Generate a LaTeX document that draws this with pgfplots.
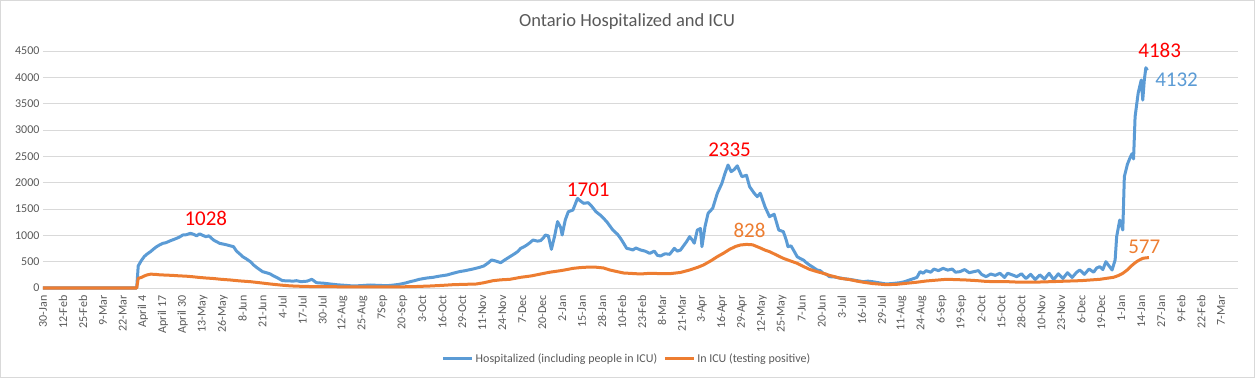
\documentclass[border=0pt]{standalone}
\usepackage{fontspec}
\setmainfont{Carlito}
\usepackage{pgfplots}
\pgfplotsset{compat=1.18}
\definecolor{hosp}{HTML}{5B9BD5}
\definecolor{icu}{HTML}{ED7D31}
\definecolor{gridc}{HTML}{D9D9D9}
\definecolor{txt}{HTML}{595959}
\begin{document}
\begin{tikzpicture}
\path[use as bounding box] (0,0) rectangle (1255bp,378bp);
\draw[gridc, line width=1bp] (0.5bp,0.5bp) rectangle (1254.5bp,377.5bp);
\begin{axis}[
  at={(43bp,90bp)}, anchor=south west,
  scale only axis, width=1195bp, height=237bp,
  xmin=0, xmax=778, ymin=0, ymax=4500,
  clip=false,
  ytick={0,500,...,4500},
  scaled y ticks=false,
  /pgf/number format/1000 sep={},
  /pgf/number format/assume math mode=true,
  xtick={0,13,...,767},
  xticklabels={30-Jan,12-Feb,25-Feb,9-Mar,22-Mar,April 4,April 17,April 30,13-May,26-May,8-Jun,21-Jun,4-Jul,17-Jul,30-Jul,12-Aug,25-Aug,7Sep,20-Sep,3-Oct,16-Oct,29-Oct,11-Nov,24-Nov,7-Dec,20-Dec,2-Jan,15-Jan,28-Jan,10-Feb,23-Feb,8-Mar,21-Mar,3-Apr,16-Apr,29-Apr,12-May,25-May,7-Jun,20-Jun,3-Jul,16-Jul,29-Jul,11-Aug,24-Aug,6-Sep,19-Sep,2-Oct,15-Oct,28-Oct,10-Nov,23-Nov,6-Dec,19-Dec,1-Jan,14-Jan,27-Jan,9-Feb,22-Feb,7-Mar},
  axis line style={draw=none},
  major tick length=0pt,
  ymajorgrids, grid style={gridc, line width=0.75bp},
  tick label style={font=\fontsize{12bp}{14bp}\selectfont, text=txt},
  yticklabel style={anchor=east, xshift=0bp},
  xticklabel style={rotate=90, anchor=east},
  xticklabel shift=4bp,
  title={Ontario Hospitalized and ICU},
  title style={at={(0.4887,1.097)}, anchor=center, yshift=0pt, font=\fontsize{18.5bp}{21bp}\selectfont, text=txt},
  legend columns=2,
  legend style={at={(0.4887,-0.297)}, anchor=center, draw=none, fill=none, font=\fontsize{12bp}{14bp}\selectfont, text=txt, /tikz/every even column/.append style={column sep=4bp}},
  legend image code/.code={\draw[#1, line width=3bp] (0bp,0bp) -- (29bp,0bp);},
]
\addplot[hosp, line width=3bp, line join=round] coordinates {
(0,0) (61,0) (62,420) (64,520) (66,600) (68,650) (70,690) (72,740) (74,785) (76,820) (78,848) (80,860) (83,898) (85,920) (87,943) (89,970) (91,1006) (93,1010) (96,1038) (98,1020) (100,990) (102,1028) (104,1000) (106,975) (108,990) (111,911) (113,880) (115,848) (118,830) (120,816) (122,800) (124,785) (126,700) (128,650) (130,595) (132,560) (135,500) (137,440) (139,392) (141,350) (143,310) (146,285) (148,266) (150,230) (152,203) (154,170) (156,139) (160,135) (163,130) (165,139) (168,120) (172,130) (175,165) (178,101) (183,90) (187,76) (192,60) (197,50) (202,38) (207,45) (213,57) (218,50) (224,44) (228,55) (232,70) (236,95) (239,120) (242,140) (245,165) (250,190) (254,203) (258,225) (263,247) (267,280) (271,310) (275,330) (280,361) (284,390) (287,418) (290,480) (292,532) (295,510) (298,481) (301,540) (304,595) (307,650) (309,690) (311,753) (313,780) (315,816) (317,860) (319,911) (322,890) (324,900) (326,960) (327,1006) (329,990) (331,734) (333,975) (335,1260) (337,1150) (338,1006) (340,1291) (342,1449) (345,1480) (348,1701) (350,1650) (352,1608) (355,1620) (357,1560) (360,1449) (363,1380) (367,1260) (369,1180) (371,1101) (374,1020) (376,943) (378,850) (380,753) (382,740) (384,722) (386,760) (389,722) (392,700) (395,658) (398,700) (400,620) (402,608) (405,650) (408,640) (411,753) (413,700) (415,720) (417,800) (419,880) (421,975) (423,900) (424,850) (426,1101) (428,1130) (429,785) (431,1165) (433,1418) (436,1513) (439,1798) (442,1988) (444,2178) (446,2335) (448,2209) (450,2250) (452,2320) (455,2114) (458,2140) (460,1925) (463,1800) (465,1735) (467,1800) (470,1545) (473,1355) (476,1400) (479,1101) (482,1070) (484,900) (485,785) (487,800) (489,700) (491,595) (493,560) (495,532) (497,480) (499,437) (502,380) (504,342) (506,329) (508,279) (510,260) (512,215) (515,210) (519,190) (522,175) (525,165) (530,140) (534,120) (537,130) (540,120) (545,95) (549,76) (553,85) (558,101) (561,120) (564,152) (567,180) (569,203) (571,310) (573,280) (575,329) (578,300) (580,360) (583,330) (586,373) (589,340) (592,360) (594,300) (597,310) (600,350) (603,290) (606,310) (609,330) (611,260) (614,215) (617,266) (620,240) (623,280) (626,200) (628,280) (631,250) (634,215) (637,270) (640,180) (643,260) (646,160) (649,250) (652,170) (655,280) (658,160) (661,270) (664,180) (667,290) (670,200) (673,300) (675,342) (678,260) (681,360) (684,300) (686,380) (688,405) (690,350) (692,500) (694,420) (696,342) (698,532) (699,975) (701,1291) (703,1101) (704,2114) (706,2350) (708,2493) (709,2550) (710,2450) (711,3253) (713,3700) (715,3949) (716,3569) (717,3949) (718,4183) (719,4132)
};
\addlegendentry{Hospitalized (including people in ICU)}
\addplot[icu, line width=3bp, line join=round] coordinates {
(0,0) (61,0) (62,184) (64,200) (66,230) (68,250) (70,262) (73,260) (76,250) (80,245) (84,240) (89,230) (93,225) (97,215) (102,200) (106,190) (111,180) (116,165) (122,152) (128,135) (135,120) (141,100) (148,76) (155,55) (161,40) (168,32) (174,28) (185,25) (200,22) (215,20) (230,22) (240,25) (252,38) (260,50) (267,63) (275,70) (282,76) (287,100) (293,139) (298,155) (304,165) (311,203) (318,230) (324,266) (330,300) (337,329) (342,355) (345,373) (350,388) (354,395) (360,395) (365,380) (369,342) (374,310) (378,285) (384,275) (389,266) (395,279) (400,275) (408,272) (415,295) (421,342) (426,390) (430,437) (435,520) (439,595) (443,660) (447,734) (451,790) (454,816) (458,828) (462,820) (467,760) (470,720) (473,690) (478,620) (482,563) (487,510) (491,469) (495,410) (499,355) (504,310) (508,279) (512,240) (516,210) (519,184) (525,160) (530,130) (534,110) (540,85) (549,63) (556,70) (562,89) (569,110) (575,133) (582,150) (588,165) (594,160) (601,152) (608,140) (614,125) (621,120) (628,120) (636,110) (645,110) (656,120) (666,130) (676,140) (688,165) (697,203) (700,235) (703,279) (706,345) (708,405) (710,455) (712,500) (714,535) (716,563) (718,572) (720,577)
};
\addlegendentry{In ICU (testing positive)}
\node[text=red, font=\fontsize{21bp}{24bp}\selectfont] at (axis cs:106,1323) {1028};
\node[text=red, font=\fontsize{21bp}{24bp}\selectfont] at (axis cs:355,1874) {1701};
\node[text=red, font=\fontsize{21bp}{24bp}\selectfont] at (axis cs:447,2620) {2335};
\node[text=icu, font=\fontsize{21bp}{24bp}\selectfont] at (axis cs:460,1101) {828};
\node[text=red, font=\fontsize{21bp}{24bp}\selectfont] at (axis cs:727,4519) {4183};
\node[text=hosp, font=\fontsize{21bp}{24bp}\selectfont] at (axis cs:738,3949) {4132};
\node[text=icu, font=\fontsize{21bp}{24bp}\selectfont] at (axis cs:717,785) {577};
\end{axis}
\end{tikzpicture}
\end{document}
